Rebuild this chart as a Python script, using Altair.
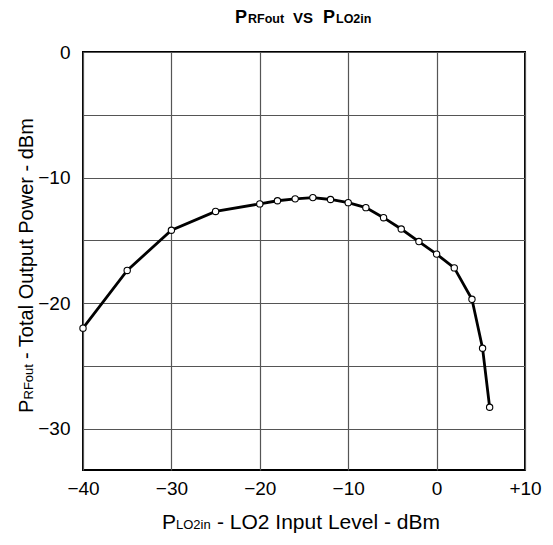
import altair as alt
import pandas as pd

# Data
lo2_in = [-40, -35, -30, -25, -20, -18, -16, -14, -12, -10, -8, -6, -4, -2, 0, 2, 4, 5.2, 6]
rf_out = [-22.0, -17.4, -14.2, -12.7, -12.1, -11.85, -11.7, -11.6, -11.75, -12.0,
          -12.4, -13.2, -14.1, -15.1, -16.1, -17.2, -19.7, -23.6, -28.3]

x_ticks = [-40, -30, -20, -10, 0, 10]
y_grid = [-30, -25, -20, -15, -10, -5, 0]

df = pd.DataFrame({"lo2": lo2_in, "rf": rf_out})

FONT = "Liberation Sans"

x_enc = alt.X(
    "lo2:Q",
    scale=alt.Scale(domain=[-40, 10], nice=False, zero=False),
    axis=alt.Axis(
        values=x_ticks, title=None, grid=True, ticks=False, domain=False,
        labelFontSize=19, labelFont=FONT, labelColor="black", labelPadding=9,
        labelFlush=False, labelOverlap=False,
        labelExpr="datum.value > 0 ? '+' + datum.label : datum.label",
        gridColor="#555555", gridWidth=1.2,
    ),
)
y_enc = alt.Y(
    "rf:Q",
    scale=alt.Scale(domain=[-33.3, 0], nice=False, zero=False),
    axis=alt.Axis(
        values=y_grid, title=None, grid=True, ticks=False, domain=False,
        labelFontSize=19, labelFont=FONT, labelColor="black", labelPadding=13,
        labelOverlap=False,
        labelExpr="datum.value % 10 == 0 ? datum.label : ''",
        gridColor="#555555", gridWidth=1.2,
    ),
)

base = alt.Chart(df)
line = base.mark_line(color="black", strokeWidth=2.8).encode(x=x_enc, y=y_enc)
pts = base.mark_point(
    shape="circle", filled=True, fill="white", stroke="black", strokeWidth=1.1,
    size=40, opacity=1
).encode(x="lo2:Q", y="rf:Q")


def label(text, x, y, size, bold=False, angle=0):
    kw = dict(align="left", baseline="alphabetic", font=FONT, fontSize=size,
              color="black", text=text)
    if bold:
        kw["fontWeight"] = "bold"
    if angle:
        kw["angle"] = angle
    return alt.Chart(alt.Data(values=[{}])).mark_text(**kw).encode(
        x=alt.value(x), y=alt.value(y)
    )


labels = [
    # title
    label("P", 152, -29, 18, bold=True),
    label("RFout", 165, -29, 12.5, bold=True),
    label("VS", 210, -29, 15, bold=True),
    label("P", 240, -29, 18, bold=True),
    label("LO2in", 253, -29, 12.5, bold=True),
    # x axis title
    label("P", 79, 477, 21),
    label("LO2in", 93, 477, 13),
    label("- LO2 Input Level - dBm", 134, 477, 21),
    # y axis title
    label("P", -50, 361, 20, angle=270),
    label("RFout", -50, 347.5, 13, angle=270),
    label("- Total Output Power - dBm", -50, 307, 20, angle=270),
]

chart = alt.layer(line, pts, *labels).properties(
    width=442,
    height=418,
    autosize=alt.AutoSizeParams(type="none"),
    padding={"left": 75, "top": 44, "right": 20, "bottom": 67},
    background="white",
).configure_view(stroke="black", strokeWidth=2)

chart.save("out.html", embed_options={"renderer": "svg", "actions": False})
